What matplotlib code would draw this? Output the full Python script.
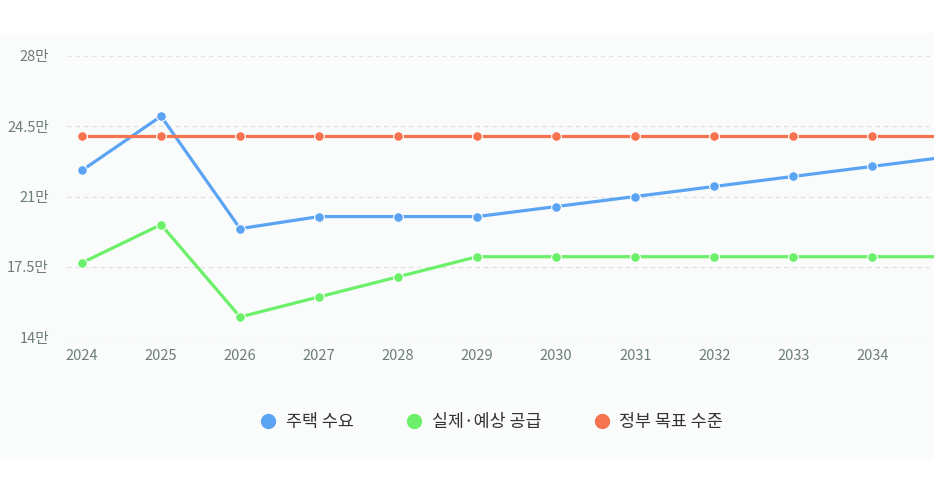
import numpy as np
import matplotlib.pyplot as plt
from matplotlib.patches import Rectangle

plt.rcParams['font.family'] = ['Noto Sans CJK KR', 'DejaVu Sans']

# data (unit: 만 호)
years = [2024, 2025, 2026, 2027, 2028, 2029, 2030, 2031, 2032, 2033, 2034, 2035]
demand = [22.3, 25.0, 19.4, 20.0, 20.0, 20.0, 20.5, 21.0, 21.5, 22.0, 22.5, 23.0]
supply = [17.7, 19.6, 15.0, 16.0, 17.0, 18.0, 18.0, 18.0, 18.0, 18.0, 18.0, 18.0]
target = [24.0] * 12
yticks = [14, 17.5, 21, 24.5, 28]
ytick_labels = ['14만', '17.5만', '21만', '24.5만', '28만']

names = ['주택 수요', '실제·예상 공급', '정부 목표 수준']
colors = ['#5ba4f4', '#6cf06a', '#f6734f']

fig = plt.figure(figsize=(9.34, 4.93), dpi=100)
fig.patch.set_facecolor('white')
# light panel behind the chart
fig.patches.append(Rectangle((0, 1 - 460 / 493), 1, (460 - 33) / 493,
                             transform=fig.transFigure, facecolor='#fafbfb',
                             edgecolor='none', zorder=-5))

ax = fig.add_axes([67 / 934, 1 - 337 / 493, 1 - 67 / 934, (337 - 56) / 493])
ax.set_facecolor('none')

for vals, c, n in zip([demand, supply, target], colors, names):
    ax.plot(years, vals, color=c, lw=2.3, marker='o', ms=7,
            mec='white', mew=0.8, label=n, clip_on=True, zorder=3)

ax.set_xlim(2023.81, 2034.78)
ax.set_ylim(14, 28)
ax.set_yticks(yticks)
ax.set_yticklabels(ytick_labels)
ax.set_xticks(years[:-1])
ax.set_xticklabels([str(y) for y in years[:-1]])
ax.tick_params(length=0, labelsize=10.5, labelcolor='#6d7d7b')
ax.tick_params(axis='y', pad=13)
ax.tick_params(axis='x', pad=9)
ax.grid(axis='y', color='#e2e2e2', ls=(0, (3, 3)), lw=1)
for s in ax.spines.values():
    s.set_visible(False)

handles = [plt.Line2D([], [], ls='none', marker='o', ms=10, color=c) for c in colors]
fig.legend(handles, names, loc='center', bbox_to_anchor=(487 / 934, 1 - 422 / 493),
           ncol=3, frameon=False, fontsize=12.5, handletextpad=0.0,
           columnspacing=2.5, labelcolor='#333333')

fig.savefig('out.png', dpi=100)
